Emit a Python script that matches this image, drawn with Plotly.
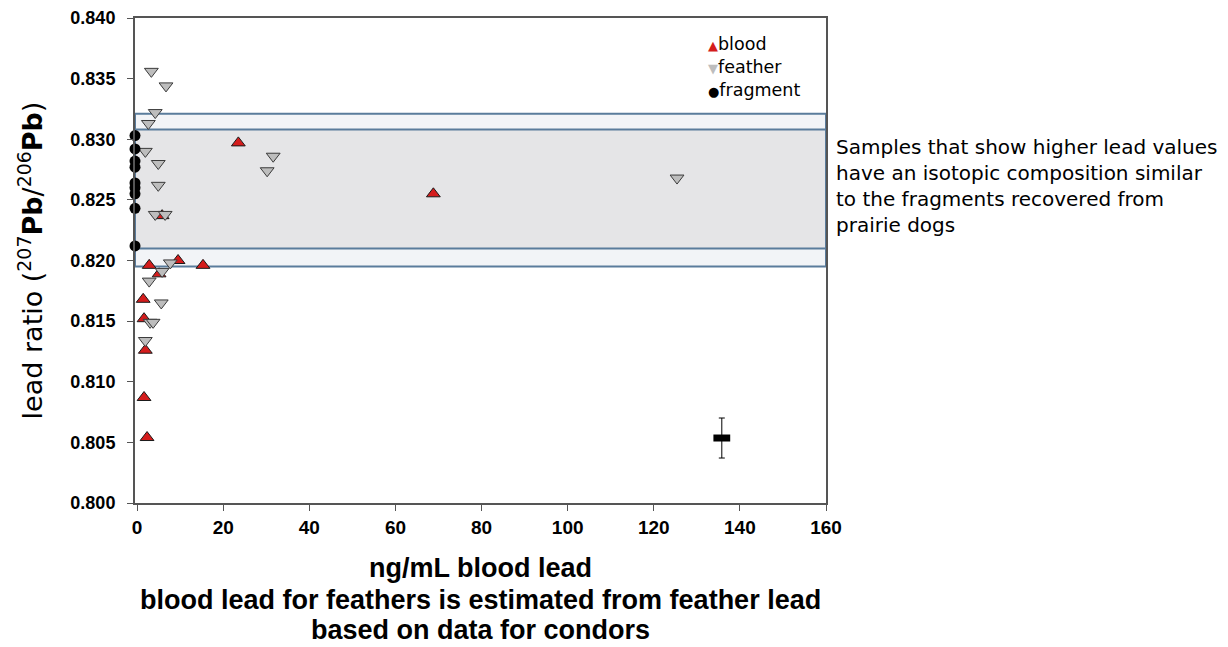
import plotly.graph_objects as go

# ---- data ----
blood_x = [2.8, 9.5, 15.3, 5.1, 1.4, 1.6, 1.9, 1.6, 2.3, 5.8, 23.5, 68.8]
blood_y = [0.8196, 0.8200, 0.8196, 0.8189, 0.8168, 0.8152, 0.8126, 0.8087, 0.8054, 0.8237, 0.8297, 0.8255]

feather_x = [3.3, 6.7, 4.2, 2.6, 1.9, 4.9, 4.9, 4.2, 6.5, 31.6, 30.2, 125.4, 7.7, 5.8, 2.8, 5.6, 3.0, 3.7, 1.9]
feather_y = [0.8356, 0.8344, 0.8322, 0.8313, 0.8290, 0.8280, 0.8262, 0.8238, 0.8238, 0.8286, 0.8274, 0.8268,
             0.8198, 0.8191, 0.8183, 0.8165, 0.8149, 0.8149, 0.8134]

fragment_x = [-0.5] * 9
fragment_y = [0.8303, 0.8292, 0.8282, 0.8277, 0.8264, 0.8260, 0.8255, 0.8243, 0.8212]

err_x = [135.8]
err_y = [0.80536]
err_size = [0.00165]

band_outer = [0.8195, 0.8321]
band_inner = [0.8210, 0.8308]
band_x = [-0.5, 160]

x_ticks = [0, 20, 40, 60, 80, 100, 120, 140, 160]
y_ticks = [0.800, 0.805, 0.810, 0.815, 0.820, 0.825, 0.830, 0.835, 0.840]

series_names = ["blood", "feather", "fragment"]
series_colors = ["#d41c1c", "#bdbdbd", "#000000"]
legend_glyphs = ["▲", "▼", "●"]

note_lines = ["Samples that show higher lead values",
              "have an isotopic composition similar",
              "to the fragments recovered from",
              "prairie dogs"]

x_title_lines = ["ng/mL blood lead",
                 "blood lead for feathers is estimated from feather lead",
                 "based on data for condors"]

NARROW = "Liberation Sans Narrow, Arial Narrow, Liberation Sans"
WIDE = "DejaVu Sans, Liberation Sans"

fig = go.Figure()

fig.add_trace(go.Scatter(x=blood_x, y=blood_y, mode="markers", name=series_names[0],
                         marker=dict(symbol="triangle-up", size=12, color=series_colors[0],
                                     line=dict(color="#1a1a1a", width=1))))
fig.add_trace(go.Scatter(x=feather_x, y=feather_y, mode="markers", name=series_names[1],
                         marker=dict(symbol="triangle-down", size=12, color=series_colors[1],
                                     line=dict(color="#3a3a3a", width=1))))
fig.add_trace(go.Scatter(x=fragment_x, y=fragment_y, mode="markers", name=series_names[2],
                         cliponaxis=False,
                         marker=dict(symbol="circle", size=11, color=series_colors[2])))
fig.add_trace(go.Scatter(x=err_x, y=err_y, mode="markers", showlegend=False,
                         marker=dict(symbol="line-ew", size=12, color="black",
                                     line=dict(color="black", width=7)),
                         error_y=dict(type="data", array=err_size, visible=True,
                                      color="black", thickness=1, width=3)))

# shaded bands
fig.add_shape(type="rect", xref="x", yref="y", x0=band_x[0], x1=band_x[1],
              y0=band_outer[0], y1=band_outer[1], layer="below",
              fillcolor="#f2f4f7", line=dict(color="#5a7c9c", width=2))
fig.add_shape(type="rect", xref="x", yref="y", x0=band_x[0], x1=band_x[1],
              y0=band_inner[0], y1=band_inner[1], layer="below",
              fillcolor="#e5e5e7", line=dict(color="#5a7c9c", width=2))

# compact legend (key) in the upper right of the plot
for i, (name, col, glyph) in enumerate(zip(series_names, series_colors, legend_glyphs)):
    fig.add_annotation(text=f"<span style='color:{col};font-size:13px'>{glyph}</span>{name}",
                       xref="paper", yref="paper", x=0.826, y=0.946 - i * 0.0474,
                       xanchor="left", yanchor="middle", showarrow=False, align="left",
                       font=dict(family=WIDE, size=17.5, color="black"))

fig.add_annotation(text="<br>".join(note_lines), xref="paper", yref="paper",
                   x=1, y=0.762, xanchor="left", yanchor="top", xshift=8,
                   align="left", showarrow=False,
                   font=dict(family=WIDE, size=20, color="black"))

for line, shift in zip(x_title_lines, [-65, -97, -127]):
    fig.add_annotation(text=f"<b>{line}</b>", xref="paper", yref="paper",
                       x=0.5, y=0, yanchor="middle", yshift=shift,
                       showarrow=False, align="center",
                       font=dict(family=NARROW, size=27, color="black"))

fig.update_layout(
    width=1228, height=647,
    margin=dict(l=127, r=410, t=10, b=152),
    plot_bgcolor="white", paper_bgcolor="white",
    font=dict(family="Liberation Sans, Arial", color="black"),
    showlegend=False,
)

fig.update_xaxes(range=[-0.5, 160], tickvals=x_ticks, ticktext=[f"<b>{v}</b>" for v in x_ticks],
                 automargin=False,
                 showgrid=False, zeroline=False, showline=True, linecolor="#555555", linewidth=2,
                 mirror=True, ticks="outside", ticklen=6, tickcolor="#555555",
                 tickfont=dict(family=NARROW, size=19, color="black"))
fig.update_yaxes(range=[0.800, 0.840], tickvals=y_ticks, ticktext=[f"<b>{v:.3f}</b>" for v in y_ticks],
                 automargin=False,
                 showgrid=False, zeroline=False, showline=True, linecolor="#555555", linewidth=2,
                 mirror=True, ticks="outside", ticklen=6, tickcolor="#555555",
                 ticklabelstandoff=8,
                 tickfont=dict(family="Liberation Sans, Arial", size=18, color="black"),
                 title=dict(text="lead ratio (<sup>207</sup><b>Pb</b>/<sup>206</sup><b>Pb</b>)",
                            font=dict(family=WIDE, size=27, color="black"),
                            standoff=20))

fig.write_html("out.html")
